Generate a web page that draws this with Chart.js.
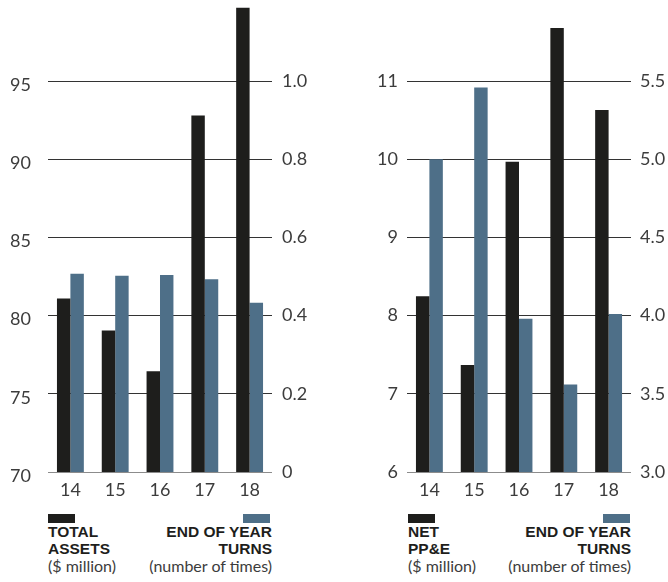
<!DOCTYPE html>
<html>
<head>
<meta charset="utf-8">
<script src="https://cdn.jsdelivr.net/npm/chart.js@4/dist/chart.umd.min.js"></script>
<style>
  html, body { margin: 0; padding: 0; background: #ffffff; }
  body { width: 668px; height: 582px; position: relative; overflow: hidden; font-family: "Lato", "Open Sans", sans-serif; }
  .panel { position: absolute; top: 0; }
  .swatch { position: absolute; width: 27px; height: 9px; }
  .label { position: absolute; font-family: "Liberation Sans", Arial, sans-serif; font-weight: 700; font-size: 15.5px; line-height: 16.5px; color: #1e1e1c; }
  .unit { font-family: "Lato", "Open Sans", sans-serif; font-weight: 400; font-size: 16px; color: #3c3c3c; line-height: 17px; }
  .right { text-align: right; }
</style>
</head>
<body>
<canvas id="assets" class="panel" style="left:0" width="334" height="507"></canvas>
<canvas id="ppe" class="panel" style="left:334px" width="334" height="507"></canvas>

<div class="swatch" style="left:48px; top:514px; background:#1e1e1c"></div>
<div class="swatch" style="left:243px; top:514px; background:#4e6f88"></div>
<div class="label" style="left:48px; top:524px">TOTAL<br>ASSETS<div class="unit">($ million)</div></div>
<div class="label right" style="left:120px; width:152px; top:524px">END OF YEAR<br>TURNS<div class="unit">(number of times)</div></div>

<div class="swatch" style="left:408px; top:514px; background:#1e1e1c"></div>
<div class="swatch" style="left:603px; top:514px; background:#4e6f88"></div>
<div class="label" style="left:408px; top:524px">NET<br>PP&amp;E<div class="unit">($ million)</div></div>
<div class="label right" style="left:479px; width:152px; top:524px">END OF YEAR<br>TURNS<div class="unit">(number of times)</div></div>

<script>
// Fiscal years shown on the category axis
const years = ['14', '15', '16', '17', '18'];

// Left panel: total assets ($ million) and end-of-year asset turns
const totalAssets = [81.1, 79.05, 76.45, 92.8, 99.7];
const assetTurns = [0.507, 0.502, 0.504, 0.493, 0.433];

// Right panel: net PP&E ($ million) and end-of-year PP&E turns
const netPPE = [8.25, 7.37, 9.97, 11.68, 10.63];
const ppeTurns = [5.00, 5.46, 3.98, 3.56, 4.01];

// Axis ranges: [min, max, step]
const assetsAxis = [70, 100, 5];
const assetTurnsAxis = [0, 1.2, 0.2];
const ppeAxis = [6, 12, 1];
const ppeTurnsAxis = [3.0, 6.0, 0.5];

const DARK = '#1e1e1c';
const BLUE = '#4e6f88';
const TEXT = '#3c3c3c';
const TICK_FONT = { family: 'Lato, "Open Sans", sans-serif', size: 18, weight: 400 };

// drop the tick at the very top of the range (no label, no gridline there)
function dropTopTick(scale) {
  scale.ticks = scale.ticks.filter(t => t.value < scale.max - 1e-9);
}

function makePanel(id, leftVals, rightVals, leftAxis, rightAxis, opts) {
  return new Chart(document.getElementById(id), {
    type: 'bar',
    data: {
      labels: years,
      datasets: [
        { data: leftVals, backgroundColor: DARK, yAxisID: 'y', borderWidth: 0 },
        { data: rightVals, backgroundColor: BLUE, yAxisID: 'y1', borderWidth: 0 }
      ]
    },
    options: {
      responsive: false,
      animation: false,
      devicePixelRatio: 1,
      layout: { padding: { top: 3, left: 0, right: 0, bottom: 0 } },
      plugins: { legend: { display: false }, tooltip: { enabled: false } },
      datasets: { bar: { categoryPercentage: 0.6, barPercentage: 1.0 } },
      scales: {
        x: {
          grid: { display: false, drawTicks: false },
          border: { display: false },
          ticks: { color: TEXT, font: TICK_FONT, padding: 7 },
          afterFit: s => { s.height = 35; s.paddingLeft = 0; s.paddingRight = 0; }
        },
        y: {
          position: 'left',
          min: leftAxis[0], max: leftAxis[1],
          afterBuildTicks: dropTopTick,
          afterFit: s => { s.width = opts.leftWidth; s.paddingTop = 0; s.paddingBottom = 0; },
          grid: {
            drawTicks: false,
            lineWidth: 1,
            color: c => (c.tick && c.tick.value === leftAxis[0]) ? '#8c8c8c' : '#333333'
          },
          border: { display: false },
          ticks: {
            stepSize: leftAxis[2],
            color: TEXT, font: TICK_FONT,
            padding: opts.leftPad,
            labelOffset: opts.leftOffset
          }
        },
        y1: {
          position: 'right',
          min: rightAxis[0], max: rightAxis[1],
          afterBuildTicks: dropTopTick,
          afterFit: s => { s.width = opts.rightWidth; s.paddingTop = 0; s.paddingBottom = 0; },
          grid: { display: false, drawTicks: false },
          border: { display: false },
          ticks: {
            stepSize: rightAxis[2],
            color: TEXT, font: TICK_FONT,
            padding: opts.rightPad,
            callback: opts.rightFmt
          }
        }
      }
    }
  });
}

makePanel('assets', totalAssets, assetTurns, assetsAxis, assetTurnsAxis, {
  leftWidth: 48, rightWidth: 62, leftPad: 17, rightPad: 10, leftOffset: 4,
  rightFmt: v => (Math.abs(v) < 1e-9 ? '0' : v.toFixed(1))
});

makePanel('ppe', netPPE, ppeTurns, ppeAxis, ppeTurnsAxis, {
  leftWidth: 73, rightWidth: 37, leftPad: 9, rightPad: 9, leftOffset: 0,
  rightFmt: v => v.toFixed(1)
});
</script>
</body>
</html>
